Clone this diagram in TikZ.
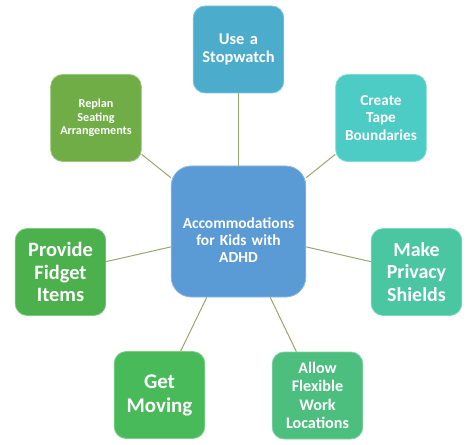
\documentclass[tikz,border=0pt]{standalone}
\usepackage{fontspec}
\setmainfont{Carlito}
\usetikzlibrary{positioning}
\definecolor{hubblue}{RGB}{91,155,213}
\definecolor{watchblue}{RGB}{75,172,204}
\definecolor{tapeteal}{RGB}{77,203,197}
\definecolor{shieldteal}{RGB}{74,198,160}
\definecolor{allowgreen}{RGB}{76,190,126}
\definecolor{movegreen}{RGB}{72,186,90}
\definecolor{fidgetgreen}{RGB}{76,176,76}
\definecolor{replangreen}{RGB}{112,173,71}
\definecolor{spokeline}{RGB}{152,166,112}
\tikzset{
    box_hub/.style={
        rectangle, rounded corners=20bp, fill=hubblue, draw=hubblue!70!white, line width=0.8pt,
        minimum width=133bp, minimum height=131bp, text width=128bp,
        align=center, text=white, font=\bfseries\fontsize{15.5}{17.3}\selectfont
    },
    box_leaf/.style={
        rectangle, rounded corners=12bp, draw=#1!70!white, fill=#1, line width=0.8pt,
        minimum width=87bp, minimum height=87bp, text width=84bp,
        align=center, text=white
    },
    spoke/.style={
        draw=spokeline, line width=1pt
    }
}
\begin{document}
\begin{tikzpicture}[x=1bp, y=-1bp]
    \useasboundingbox (0,0) rectangle (474,445);

    % --- Hub ---
    \node[box_hub] (hub) at (238.5, 231.5) {\mbox{}\\[11bp]Accommodations\\for Kids with\\ADHD};

    % --- Leaves ---
    \node[box_leaf=watchblue, font=\bfseries\fontsize{16.5}{18}\selectfont] (watch) at (238.5, 49.5) {Use a\\Stopwatch};
    \node[box_leaf=replangreen, font=\bfseries\fontsize{12.2}{13.7}\selectfont] (seating) at (96, 118) {Replan\\Seating\\Arrangements};
    \node[box_leaf=tapeteal, font=\bfseries\fontsize{15.3}{17.3}\selectfont] (tape) at (381, 118) {Create\\Tape\\Boundaries};
    \node[box_leaf=fidgetgreen, font=\bfseries\fontsize{20.5}{22.5}\selectfont] (fidget) at (60.5, 272) {Provide\\Fidget\\Items};
    \node[box_leaf=shieldteal, font=\bfseries\fontsize{20}{22.5}\selectfont] (shields) at (416.5, 272) {Make\\Privacy\\Shields};
    \node[box_leaf=movegreen, font=\bfseries\fontsize{21}{24}\selectfont] (moving) at (159.5, 395) {Get\\Moving};
    \node[box_leaf=allowgreen, font=\bfseries\fontsize{16.2}{18.3}\selectfont] (flexible) at (317.5, 395.5) {Allow\\Flexible\\Work\\Locations};

    % --- Spokes ---
    \draw[spoke] (hub) -- (watch);
    \draw[spoke] (hub) -- (seating);
    \draw[spoke] (hub) -- (tape);
    \draw[spoke] (hub) -- (fidget);
    \draw[spoke] (hub) -- (shields);
    \draw[spoke] (hub) -- (moving);
    \draw[spoke] (hub) -- (flexible);

\end{tikzpicture}
\end{document}
